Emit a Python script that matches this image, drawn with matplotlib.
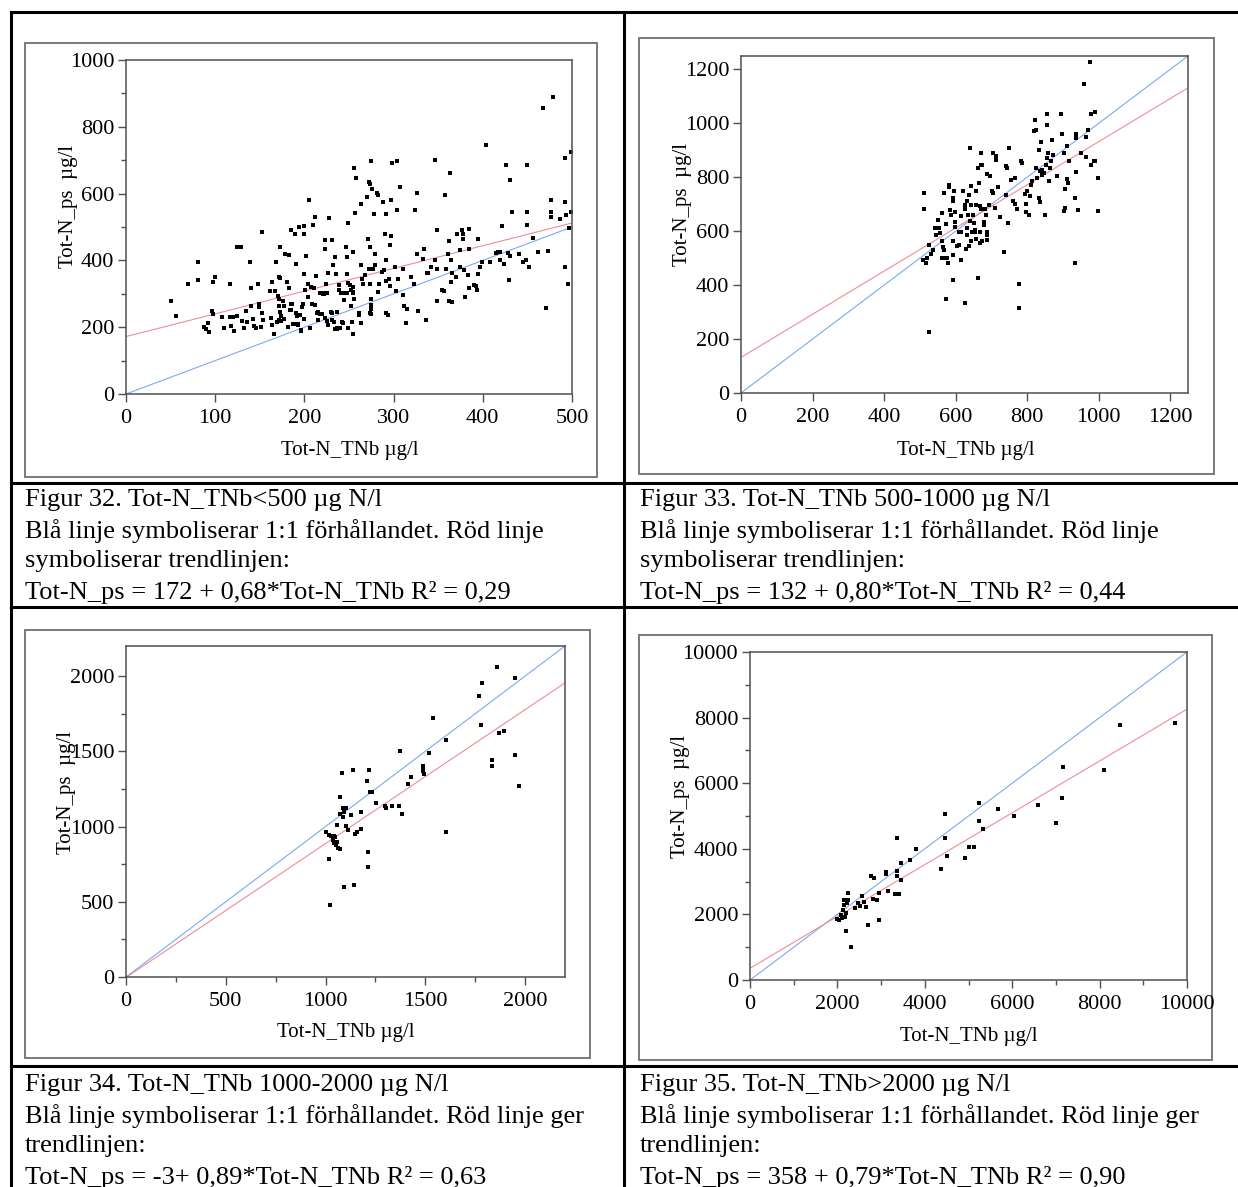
import numpy as np
import matplotlib.pyplot as plt
from matplotlib.patches import Rectangle

plt.rcParams['font.family'] = ['Liberation Serif', 'DejaVu Serif']

W, H = 1238, 1187

# Figur 32: Tot-N_TNb < 500 (x = Tot-N_TNb, y = Tot-N_ps)
pts_32 = [
    (50, 277), (56, 235), (69, 329), (81, 394), (81, 340), (100, 349), (98, 335), (96, 250), (98, 240),
    (88, 200), (90, 195), (92, 212), (93, 185), (108, 231), (110, 197), (117, 329), (117, 232), (120, 232),
    (118, 205), (121, 190), (125, 440), (129, 440), (124, 234), (130, 220), (132, 197), (135, 250), (136, 215),
    (139, 395), (140, 317), (140, 262), (142, 225), (144, 204), (146, 198), (149, 268), (149, 260), (148, 328),
    (152, 485), (151, 200), (154, 222), (153, 244), (161, 307), (164, 335), (162, 228), (164, 208), (166, 180),
    (167, 307), (168, 394), (171, 351), (173, 347), (170, 292), (172, 285), (171, 264), (173, 245), (174, 235),
    (169, 215), (171, 222), (174, 218), (177, 224), (173, 439), (176, 277), (177, 264), (178, 420), (181, 334),
    (183, 415), (183, 317), (185, 252), (185, 270), (185, 490), (187, 210), (190, 480), (191, 390), (192, 235),
    (193, 210), (195, 238), (194, 500), (199, 502), (197, 260), (198, 270), (200, 480), (200, 360), (196, 190),
    (199, 225), (202, 412), (201, 312), (204, 330), (204, 290), (205, 580), (206, 197), (207, 320), (208, 268),
    (210, 505), (212, 530), (211, 318), (212, 265), (213, 354), (214, 244), (215, 222), (217, 302), (218, 240),
    (221, 300), (222, 300), (223, 462), (223, 434), (224, 330), (225, 220), (227, 362), (228, 528), (230, 245),
    (231, 243), (231, 462), (232, 387), (233, 215), (234, 410), (235, 360), (236, 245), (234, 195), (237, 195),
    (240, 197), (239, 310), (239, 327), (241, 302), (242, 215), (244, 280), (247, 440), (248, 410), (248, 360),
    (249, 333), (251, 325), (252, 310), (254, 320), (255, 305), (256, 285), (249, 512), (252, 262), (253, 215),
    (254, 424), (254, 180), (256, 677), (258, 647), (257, 543), (261, 237), (263, 212), (263, 568), (264, 385),
    (265, 345), (266, 330), (268, 355), (270, 589), (271, 465), (272, 374), (272, 635), (273, 630), (273, 439),
    (273, 330), (275, 240), (275, 267), (275, 255), (275, 697), (275, 285), (276, 615), (277, 375), (279, 385),
    (278, 540), (279, 420), (281, 603), (282, 595), (282, 305), (284, 330), (287, 365), (288, 575), (289, 370),
    (290, 480), (291, 400), (291, 540), (291, 242), (294, 238), (292, 337), (295, 345), (296, 445), (296, 322),
    (297, 472), (297, 580), (298, 691), (302, 380), (303, 307), (304, 697), (304, 550), (307, 620), (305, 344),
    (311, 374), (311, 295), (312, 263), (315, 255), (314, 212), (319, 350), (323, 330), (324, 550), (326, 602),
    (326, 420), (327, 250), (333, 405), (334, 435), (336, 222), (337, 362), (339, 362), (342, 380), (346, 700),
    (346, 402), (349, 490), (349, 374), (349, 278), (354, 310), (356, 307), (358, 595), (359, 375), (361, 420),
    (362, 458), (363, 662), (364, 400), (364, 334), (362, 277), (366, 275), (366, 362), (370, 350), (371, 480),
    (374, 430), (375, 380), (377, 490), (378, 480), (378, 463), (379, 370), (380, 290), (383, 355), (384, 317),
    (385, 495), (385, 434), (390, 325), (392, 322), (394, 310), (395, 360), (395, 463), (397, 380), (399, 395),
    (404, 745), (408, 395), (415, 422), (417, 425), (419, 425), (419, 400), (422, 502), (424, 390), (426, 687),
    (428, 422), (429, 340), (430, 640), (431, 412), (433, 544), (441, 420), (445, 395), (448, 402), (449, 686),
    (449, 544), (449, 505), (452, 380), (456, 467), (462, 424), (468, 857), (471, 257), (473, 428), (477, 580),
    (477, 545), (477, 530), (479, 890), (487, 524), (492, 707), (492, 575), (492, 380), (493, 535), (495, 328),
    (497, 496), (499, 725), (499, 544),
    (184, 251), (186, 269), (191, 242), (196, 192), (193, 207), (188, 210), (182, 201), (215, 246), (220, 239),
    (223, 227), (226, 207), (231, 222), (236, 198), (240, 198), (243, 213), (249, 198), (263, 213), (261, 242),
    (273, 242), (243, 302), (248, 302), (254, 302), (221, 302), (225, 302),
]

# Figur 33: Tot-N_TNb 500-1000
pts_33 = [
    (513, 740), (511, 681), (508, 494), (516, 481), (521, 500), (525, 548), (526, 227), (530, 516), (537, 531),
    (543, 611), (544, 587), (552, 642), (555, 611), (556, 593), (561, 667), (563, 562), (565, 543), (568, 531),
    (563, 500), (569, 500), (573, 347), (574, 626), (576, 500), (580, 481), (581, 765), (583, 773), (568, 740),
    (585, 680), (588, 661), (592, 419), (593, 565), (594, 723), (594, 713), (594, 512), (596, 748), (598, 673),
    (599, 636), (599, 614), (605, 546), (609, 550), (610, 599), (614, 597), (615, 655), (616, 492), (620, 748),
    (625, 683), (627, 697), (627, 332), (629, 533), (631, 611), (632, 587), (633, 713), (634, 661), (637, 547),
    (638, 735), (639, 639), (640, 909), (642, 766), (643, 698), (644, 562), (646, 599), (650, 661), (651, 630),
    (653, 599), (655, 605), (656, 698), (657, 572), (658, 748), (662, 425), (664, 835), (666, 779), (667, 599),
    (668, 692), (669, 556), (670, 847), (671, 890), (672, 682), (673, 562), (675, 847), (679, 636), (680, 624),
    (682, 682), (684, 661), (687, 599), (687, 587), (688, 812), (689, 568), (693, 698), (697, 805), (701, 751),
    (704, 890), (706, 741), (710, 686), (713, 880), (713, 866), (720, 763), (724, 651), (735, 522), (740, 735),
    (742, 841), (744, 835), (748, 632), (749, 909), (756, 791), (760, 713), (765, 797), (767, 701), (772, 682),
    (778, 403), (778, 314), (784, 859), (786, 853), (793, 738), (796, 671), (797, 701), (801, 748), (806, 661),
    (807, 730), (812, 773), (814, 785), (818, 971), (822, 1012), (824, 977), (826, 835), (829, 797), (832, 900),
    (834, 723), (835, 710), (835, 822), (838, 930), (841, 810), (843, 829), (846, 816), (850, 661), (853, 844),
    (855, 1035), (855, 993), (856, 872), (858, 890), (861, 787), (863, 835), (867, 859), (869, 940), (872, 882),
    (884, 804), (896, 1035), (898, 959), (902, 890), (903, 676), (905, 756), (907, 686), (911, 915), (913, 795),
    (914, 779), (918, 859), (933, 481), (935, 723), (936, 959), (936, 946), (938, 818), (941, 680), (951, 890),
    (958, 1147), (964, 949), (966, 875), (969, 977), (976, 1228), (978, 1035), (980, 847), (988, 859),
    (990, 1042), (991, 859), (997, 797), (997, 676),
]

# Figur 34: Tot-N_TNb 1000-2000
pts_34 = [
    (1000, 964), (1016, 942), (1016, 783), (1024, 477), (1028, 936), (1036, 913), (1041, 938), (1043, 891),
    (1045, 931), (1051, 876), (1055, 898), (1061, 860), (1059, 1009), (1071, 854), (1071, 1197), (1071, 1082),
    (1081, 1357), (1085, 1120), (1087, 1064), (1091, 599), (1093, 1095), (1101, 1126), (1103, 1002), (1114, 975),
    (1126, 1075), (1136, 1375), (1144, 610), (1146, 953), (1156, 964), (1180, 1097), (1180, 987), (1209, 1301),
    (1211, 829), (1211, 732), (1219, 1375), (1225, 1228), (1235, 1228), (1255, 1157), (1298, 1135), (1302, 1120),
    (1334, 1135), (1367, 1135), (1373, 1501), (1383, 1086), (1412, 1284), (1429, 1328), (1486, 1403),
    (1486, 1386), (1486, 1370), (1492, 1346), (1520, 1490), (1539, 1723), (1605, 1574), (1605, 964),
    (1769, 1867), (1779, 1674), (1784, 1953), (1834, 1441), (1834, 1401), (1859, 2062), (1869, 1623),
    (1893, 1634), (1948, 1989), (1948, 1474), (1968, 1270),
]

# Figur 35: Tot-N_TNb > 2000
pts_35 = [
    (1989, 1851), (2043, 1831), (2088, 1983), (2115, 1881), (2133, 2136), (2142, 2441), (2160, 2288),
    (2178, 1932), (2187, 1495), (2205, 2034), (2214, 2339), (2232, 2441), (2250, 2665), (2304, 1007),
    (2394, 2187), (2466, 2359), (2520, 2258), (2556, 2563), (2601, 2390), (2664, 2237), (2709, 1678),
    (2763, 3173), (2808, 2461), (2844, 3122), (2916, 2441), (2961, 2665), (2961, 1831), (3123, 3305),
    (3123, 3224), (3168, 2715), (3312, 2624), (3357, 3326), (3357, 3173), (3375, 4332), (3420, 2624),
    (3465, 3570), (3465, 3051), (3672, 3661), (3807, 3997), (4374, 3387), (4464, 5065), (4464, 4332),
    (4509, 3793), (4923, 3732), (5013, 4058), (5130, 4058), (5238, 5400), (5238, 4851), (5337, 4607),
    (5679, 5217), (6039, 5004), (6588, 5339), (7002, 4790), (7137, 5553), (7164, 6499), (8100, 6407),
    (8460, 7780), (9720, 7841),
]

# trend lines: Tot-N_ps = a + b*Tot-N_TNb
intercepts = [172, 132, -3, 358]
slopes = [0.68, 0.80, 0.89, 0.79]

captions = [
    ["Figur 32. Tot-N_TNb<500 µg N/l",
     "Blå linje symboliserar 1:1 förhållandet. Röd linje",
     "symboliserar trendlinjen:",
     "Tot-N_ps = 172 + 0,68*Tot-N_TNb R² = 0,29"],
    ["Figur 33. Tot-N_TNb 500-1000 µg N/l",
     "Blå linje symboliserar 1:1 förhållandet. Röd linje",
     "symboliserar trendlinjen:",
     "Tot-N_ps = 132 + 0,80*Tot-N_TNb R² = 0,44"],
    ["Figur 34. Tot-N_TNb 1000-2000 µg N/l",
     "Blå linje symboliserar 1:1 förhållandet. Röd linje ger",
     "trendlinjen:",
     "Tot-N_ps = -3+ 0,89*Tot-N_TNb R² = 0,63"],
    ["Figur 35. Tot-N_TNb>2000 µg N/l",
     "Blå linje symboliserar 1:1 förhållandet. Röd linje ger",
     "trendlinjen:",
     "Tot-N_ps = 358 + 0,79*Tot-N_TNb R² = 0,90"],
]

fig = plt.figure(figsize=(W / 100, H / 100), dpi=100)

# background layer in pixel coordinates for the table grid, frames and texts
bg = fig.add_axes([0, 0, 1, 1])
bg.set_xlim(0, W)
bg.set_ylim(H, 0)
bg.axis('off')

for x in [11, 624]:
    bg.plot([x, x], [12, H], color='black', lw=2.2)
for y in [12, 483, 607, 1066]:
    bg.plot([11, W], [y, y], color='black', lw=2.2)

frames = [(25, 43, 597, 477), (639, 38, 1214, 474), (25, 630, 590, 1058), (639, 635, 1212, 1060)]
for l, t, r, b in frames:
    bg.add_patch(Rectangle((l, t), r - l, b - t, fill=False, ec='#7a7a7a', lw=1.4))


def px_axes(l, t, r, b):
    return fig.add_axes([l / W, 1 - b / H, (r - l) / W, (b - t) / H])


def draw_panel(ax, pts, a, b, lim, major, minor):
    x, y = np.array(pts).T
    xs = np.array([0, lim])
    ax.plot(xs, xs, color='#79a9f5', lw=0.8)
    ax.plot(xs, a + b * xs, color='#f28a98', lw=0.8)
    ax.plot(x, y, 's', color='black', ms=3.5, mew=0)
    ax.set_xlim(0, lim)
    ax.set_ylim(0, lim)
    ax.set_xticks(major)
    ax.set_yticks(major)
    if minor is not None:
        ax.set_xticks(minor, minor=True)
        ax.set_yticks(minor, minor=True)
    for s in ax.spines.values():
        s.set_color('#505050')
        s.set_linewidth(1.1)
    ax.tick_params(which='major', length=6, width=1, color='#505050', labelsize=16)
    ax.tick_params(axis='x', which='major', pad=5)
    ax.tick_params(axis='y', which='major', pad=2.5)
    ax.tick_params(which='minor', length=3.5, width=1, color='#505050')


ax1 = px_axes(126, 60, 572, 394)
draw_panel(ax1, pts_32, intercepts[0], slopes[0], 500, np.arange(0, 501, 100), None)
ax1.set_ylim(0, 1000)
ax1.set_yticks(np.arange(0, 1001, 200))
ax1.set_yticks(np.arange(100, 1000, 200), minor=True)
ax1.set_xticks([], minor=True)

ax2 = px_axes(741, 56, 1188, 393)
draw_panel(ax2, pts_33, intercepts[1], slopes[1], 1250, np.arange(0, 1201, 200), None)

ax3 = px_axes(126, 646, 565, 977)
draw_panel(ax3, pts_34, intercepts[2], slopes[2], 2200, np.arange(0, 2001, 500), np.arange(250, 2200, 500))

ax4 = px_axes(750, 652, 1187, 980)
draw_panel(ax4, pts_35, intercepts[3], slopes[3], 10000, np.arange(0, 10001, 2000), np.arange(1000, 10000, 2000))

# axis titles (placed like the original export, overlapping the tick labels)
ylab_pos = [(68, 207), (683, 205), (67, 792), (681, 797)]
xlab_pos = [(350, 451), (966, 450), (346, 1033), (969, 1037)]
for (yx, yy), (xx, xy) in zip(ylab_pos, xlab_pos):
    bg.text(yx, yy, 'Tot-N_ps  µg/l', rotation=90, ha='center', va='center', fontsize=15)
    bg.text(xx, xy, 'Tot-N_TNb µg/l', ha='center', va='center', fontsize=15)

# captions under each chart
cap_x = [25, 640, 25, 640]
cap_y0 = [500, 500, 1085, 1085]
for lines, cx, cy in zip(captions, cap_x, cap_y0):
    for i, line in enumerate(lines):
        bg.text(cx, cy + i * 30.7, line, ha='left', va='center', fontsize=19)

fig.savefig('out.png', dpi=100)
